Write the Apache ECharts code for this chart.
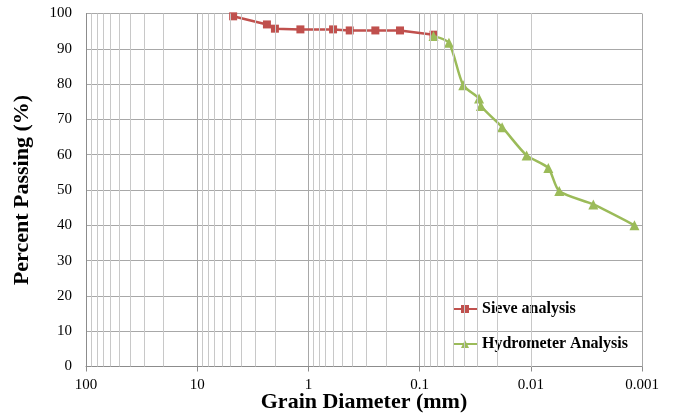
<!DOCTYPE html>
<html><head><meta charset="utf-8">
<script src="https://cdn.jsdelivr.net/npm/echarts@6/dist/echarts.min.js"></script>
<style>html,body{margin:0;padding:0;background:#fff}#c{width:676px;height:414px}</style>
</head><body><div id="c"></div>
<script>
// Sieve analysis
var sieveSize = [4.75, 2.36, 2.0, 1.18, 0.6, 0.425, 0.25, 0.15, 0.075];
var sievePass = [99.2, 96.9, 95.7, 95.5, 95.5, 95.2, 95.2, 95.2, 94.0];
// Hydrometer analysis
var hydroSize = [0.075, 0.0545, 0.0405, 0.0292, 0.0281, 0.0181, 0.0109, 0.00696, 0.00555, 0.00274, 0.00117];
var hydroPass = [93.6, 91.7, 79.7, 75.9, 73.8, 67.8, 59.8, 56.2, 49.7, 45.9, 40.0];
// Axis tick labels
var xTickLabels = ['100', '10', '1', '0.1', '0.01', '0.001'];
var yTicks = [0, 10, 20, 30, 40, 50, 60, 70, 80, 90, 100];

// minor gridline positions (2..9 within each decade)
var minorVals = [];
[0.001, 0.01, 0.1, 1, 10].forEach(function (d) {
  for (var k = 2; k <= 9; k++) minorVals.push(+(k * d).toPrecision(3));
});

var serif = '"Liberation Serif","Times New Roman",serif';
var chart = echarts.init(document.getElementById('c'));
chart.setOption({
  animation: false,
  grid: { left: 86, right: 34, top: 13.5, bottom: 47.5, containLabel: false, outerBoundsMode: 'none' },
  xAxis: {
    type: 'log', logBase: 10, min: 0.001, max: 100, inverse: true,
    name: 'Grain Diameter (mm)', nameLocation: 'middle', nameGap: 25, nameMoveOverlap: false,
    nameTextStyle: { fontFamily: serif, fontWeight: 'bold', fontSize: 22, color: '#000' },
    axisLine: { show: true, lineStyle: { color: '#8c8c8c', width: 1 } },
    axisTick: { show: true, length: 5, inside: false, lineStyle: { color: '#8c8c8c' } },
    axisLabel: {
      fontFamily: serif, fontSize: 15, color: '#000', margin: 11,
      formatter: function (v) {
        var e = Math.round(Math.log10(v));
        return xTickLabels[2 - e] !== undefined ? xTickLabels[2 - e] : '';
      }
    },
    splitLine: { show: true, lineStyle: { color: '#a8a8a8', width: 1 } },
    minorTick: { show: false }, minorSplitLine: { show: false }
  },
  yAxis: {
    type: 'value', min: 0, max: 100, interval: 10,
    name: 'Percent Passing (%)', nameLocation: 'middle', nameGap: 53, nameRotate: 90, nameMoveOverlap: false,
    nameTextStyle: { fontFamily: serif, fontWeight: 'bold', fontSize: 22, color: '#000' },
    axisLine: { show: true, lineStyle: { color: '#8c8c8c', width: 1 } },
    axisTick: { show: false },
    axisLabel: { fontFamily: serif, fontSize: 15, color: '#000', margin: 14 },
    splitLine: { show: true, lineStyle: { color: '#a8a8a8', width: 1 } }
  },
  legend: [
    {
      data: ['Sieve analysis'], orient: 'vertical', left: 449, top: 299,
      backgroundColor: '#fff', padding: [2, 3, 2, 3], itemWidth: 24, itemHeight: 10, itemGap: 4,
      textStyle: { fontFamily: serif, fontWeight: 'bold', fontSize: 16, color: '#000' }
    },
    {
      data: ['Hydrometer Analysis'], orient: 'vertical', left: 449, top: 334,
      backgroundColor: '#fff', padding: [2, 3, 2, 3], itemWidth: 24, itemHeight: 10, itemGap: 4,
      textStyle: { fontFamily: serif, fontWeight: 'bold', fontSize: 16, color: '#000' }
    }
  ],
  series: [
    {
      name: 'minor', type: 'line', data: [], silent: true, z: 1,
      markLine: {
        silent: true, symbol: ['none', 'none'], label: { show: false },
        lineStyle: { color: '#c8c8c8', width: 1, type: 'solid' },
        emphasis: { disabled: true },
        data: minorVals.map(function (v) { return { xAxis: v }; })
      }
    },
    {
      name: 'Sieve analysis', type: 'line', z: 3,
      data: sieveSize.map(function (s, i) { return [s, sievePass[i]]; }),
      symbol: 'rect', symbolSize: 8,
      lineStyle: { color: '#C0504D', width: 2.5 },
      itemStyle: { color: '#C0504D' }
    },
    {
      name: 'Hydrometer Analysis', type: 'line', z: 4, smooth: 0.25,
      data: hydroSize.map(function (s, i) { return [s, hydroPass[i]]; }),
      symbol: 'triangle', symbolSize: 10,
      lineStyle: { color: '#9BBB59', width: 2.5 },
      itemStyle: { color: '#9BBB59' }
    }
  ]
});
</script>
</body></html>
